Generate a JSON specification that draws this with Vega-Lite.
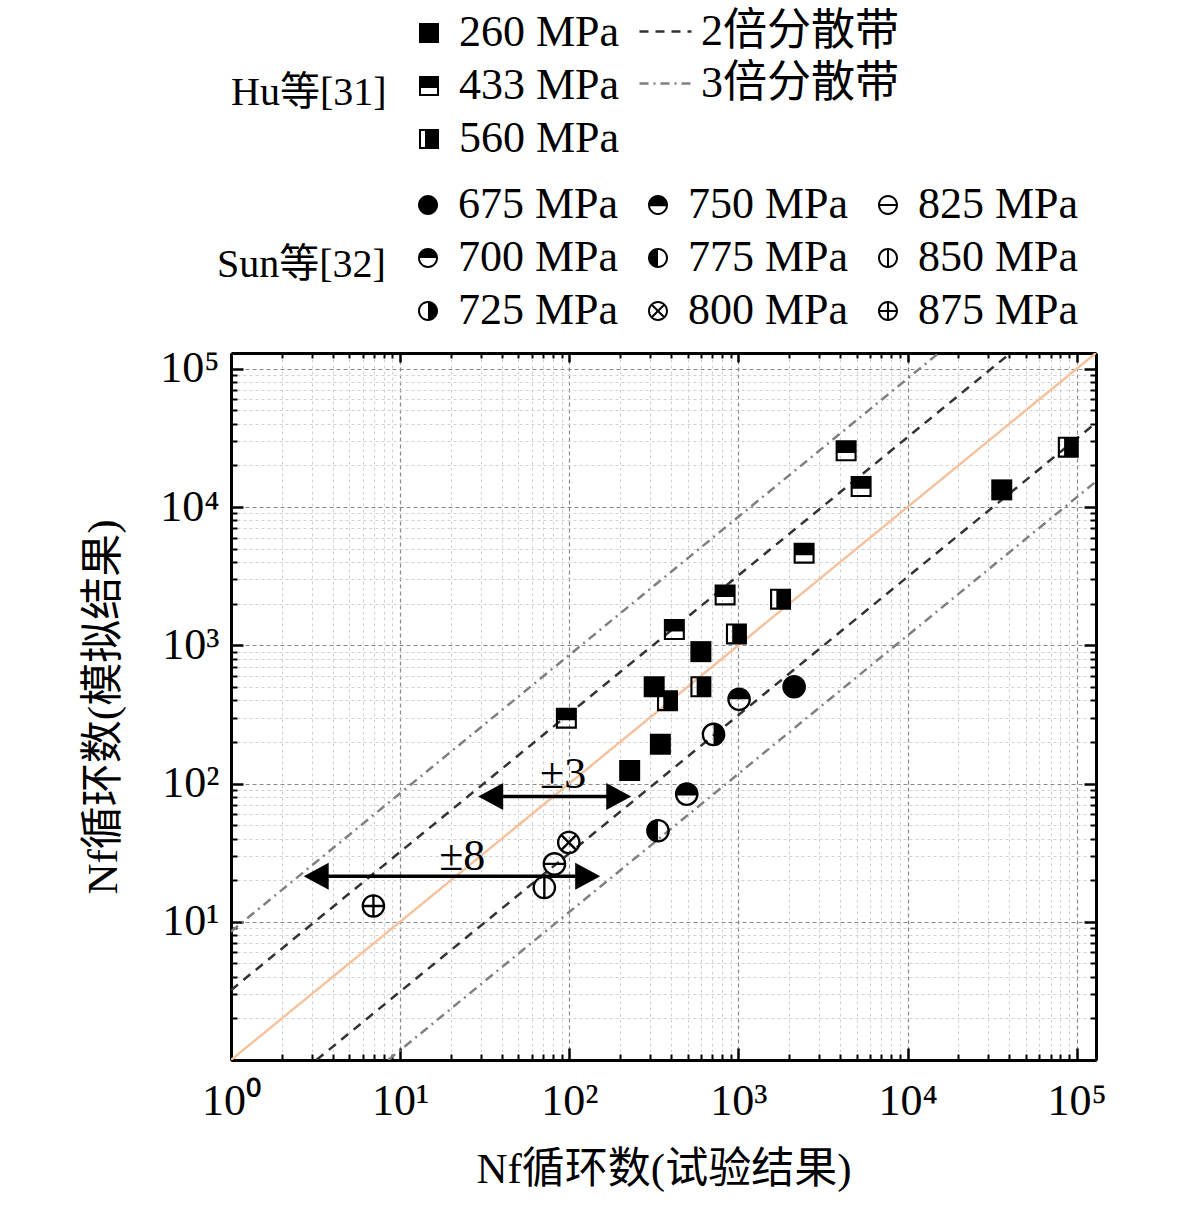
{
  "$schema": "https://vega.github.io/schema/vega-lite/v6.json",
  "autosize": {"type": "none"},
  "padding": {"left": 231, "top": 353, "right": 85, "bottom": 153},
  "width": 865,
  "height": 707,
  "background": "white",
  "datasets": {
    "diag": [
      {"x": 1, "y": 1},
      {"x": 130000, "y": 130000}
    ],
    "bands": [
      {"band": "2倍分散带", "side": "upper", "x": 1, "y": 3.2},
      {"band": "2倍分散带", "side": "upper", "x": 40625, "y": 130000},
      {"band": "2倍分散带", "side": "lower", "x": 3.2, "y": 1},
      {"band": "2倍分散带", "side": "lower", "x": 130000, "y": 40625},
      {"band": "3倍分散带", "side": "upper", "x": 1, "y": 8.5},
      {"band": "3倍分散带", "side": "upper", "x": 15294, "y": 130000},
      {"band": "3倍分散带", "side": "lower", "x": 8.5, "y": 1},
      {"band": "3倍分散带", "side": "lower", "x": 130000, "y": 15294}
    ],
    "arrows": [
      {"x": 34.3, "x2": 196, "y": 80.6},
      {"x": 3.19, "x2": 128.5, "y": 21.3}
    ],
    "heads": [
      {"dir": "left", "x": 34.3, "y": 80.6},
      {"dir": "right", "x": 196, "y": 80.6},
      {"dir": "left", "x": 3.19, "y": 21.3},
      {"dir": "right", "x": 128.5, "y": 21.3}
    ],
    "hu": [
      {"stress": "260 MPa", "x": 227.5, "y": 124.2},
      {"stress": "260 MPa", "x": 345.5, "y": 192.3},
      {"stress": "260 MPa", "x": 317.6, "y": 501},
      {"stress": "260 MPa", "x": 599.7, "y": 899},
      {"stress": "260 MPa", "x": 36040, "y": 13300},
      {"stress": "433 MPa", "x": 96.1, "y": 296.6},
      {"stress": "433 MPa", "x": 418, "y": 1300},
      {"stress": "433 MPa", "x": 834, "y": 2312},
      {"stress": "433 MPa", "x": 2445, "y": 4634},
      {"stress": "433 MPa", "x": 4331, "y": 25470},
      {"stress": "433 MPa", "x": 5312, "y": 14060},
      {"stress": "560 MPa", "x": 380.6, "y": 397},
      {"stress": "560 MPa", "x": 599.7, "y": 501},
      {"stress": "560 MPa", "x": 973, "y": 1208},
      {"stress": "560 MPa", "x": 1774, "y": 2153},
      {"stress": "560 MPa", "x": 89170, "y": 27100}
    ],
    "sun": [
      {"stress": "675 MPa", "x": 2134, "y": 501},
      {"stress": "700 MPa", "x": 1009, "y": 406},
      {"stress": "725 MPa", "x": 712.6, "y": 226.5},
      {"stress": "750 MPa", "x": 494.8, "y": 83.7},
      {"stress": "775 MPa", "x": 334.4, "y": 45.5},
      {"stress": "800 MPa", "x": 99.3, "y": 37.4},
      {"stress": "825 MPa", "x": 81.7, "y": 26.2},
      {"stress": "850 MPa", "x": 71.2, "y": 17.7},
      {"stress": "875 MPa", "x": 6.95, "y": 13.0}
    ],
    "notes": [
      {"label": "±3", "x": 92, "y": 115},
      {"label": "±8", "x": 23.3, "y": 29.4}
    ]
  },
  "layer": [
    {
      "data": {"name": "diag"},
      "mark": {"type": "line", "color": "#F6C19A", "strokeWidth": 2.4, "clip": true},
      "encoding": {
        "x": {
          "field": "x", "type": "quantitative",
          "scale": {"type": "log", "domain": [1, 130000], "nice": false},
          "axis": {
            "orient": "bottom", "title": null, "labels": false, "domain": false,
            "values": [2,3,4,5,6,7,8,9,20,30,40,50,60,70,80,90,200,300,400,500,600,700,800,900,2000,3000,4000,5000,6000,7000,8000,9000,20000,30000,40000,50000,60000,70000,80000,90000],
            "ticks": true, "tickSize": -6, "tickWidth": 2, "tickColor": "black",
            "grid": true, "gridColor": "#d0d0d0", "gridDash": [3, 3], "gridWidth": 1
          }
        },
        "y": {
          "field": "y", "type": "quantitative",
          "scale": {"type": "log", "domain": [1, 130000], "nice": false},
          "axis": {
            "orient": "left", "title": null, "labels": false, "domain": false,
            "values": [2,3,4,5,6,7,8,9,20,30,40,50,60,70,80,90,200,300,400,500,600,700,800,900,2000,3000,4000,5000,6000,7000,8000,9000,20000,30000,40000,50000,60000,70000,80000,90000],
            "ticks": true, "tickSize": -6, "tickWidth": 2, "tickColor": "black",
            "grid": true, "gridColor": "#d0d0d0", "gridDash": [3, 3], "gridWidth": 1
          }
        }
      }
    },
    {
      "data": {"name": "bands"},
      "mark": {"type": "line", "strokeWidth": 2.5, "clip": true},
      "encoding": {
        "x": {
          "field": "x", "type": "quantitative",
          "scale": {"type": "log", "domain": [1, 130000], "nice": false},
          "axis": {
            "orient": "bottom", "values": [1, 10, 100, 1000, 10000, 100000],
            "labelExpr": "'10' + ['⁰','¹','²','³','⁴','⁵'][round(log(datum.value) / LN10)]",
            "labelFont": "Liberation Serif", "labelFontSize": 44, "labelColor": "black",
            "labelPadding": 19, "labelFlush": false, "labelOverlap": false,
            "ticks": false, "domain": true, "domainColor": "black", "domainWidth": 3,
            "grid": true, "gridColor": "#8a8a8a", "gridDash": [4, 3], "gridWidth": 1.2,
            "title": "Nf循环数(试验结果)", "titleFont": "Liberation Serif, Noto Sans CJK SC",
            "titleFontSize": 43, "titleFontWeight": "normal", "titleColor": "black", "titlePadding": 25
          }
        },
        "y": {
          "field": "y", "type": "quantitative",
          "scale": {"type": "log", "domain": [1, 130000], "nice": false},
          "axis": {
            "orient": "left", "values": [1, 10, 100, 1000, 10000, 100000],
            "labelExpr": "datum.value == 1 ? '' : '10' + ['⁰','¹','²','³','⁴','⁵'][round(log(datum.value) / LN10)]",
            "labelFont": "Liberation Serif", "labelFontSize": 44, "labelColor": "black",
            "labelPadding": 12, "labelFlush": false, "labelOverlap": false,
            "ticks": false, "domain": true, "domainColor": "black", "domainWidth": 3,
            "grid": true, "gridColor": "#8a8a8a", "gridDash": [4, 3], "gridWidth": 1.2,
            "title": "Nf循环数(模拟结果)", "titleFont": "Liberation Serif, Noto Sans CJK SC",
            "titleFontSize": 43, "titleFontWeight": "normal", "titleColor": "black", "titlePadding": 34
          }
        },
        "detail": {"field": "side"},
        "color": {
          "field": "band", "type": "nominal",
          "scale": {"domain": ["2倍分散带", "3倍分散带"], "range": ["#333333", "#808080"]},
          "legend": {
            "orient": "none", "legendX": 407, "legendY": -349, "title": null, "padding": 0,
            "symbolType": "stroke", "symbolSize": 2704, "symbolStrokeWidth": 2.4,
            "labelFont": "Liberation Serif, Noto Sans CJK SC", "labelFontSize": 44, "labelColor": "black",
            "labelOffset": 8, "labelLimit": 400, "rowPadding": 2
          }
        },
        "strokeDash": {
          "field": "band", "type": "nominal",
          "scale": {"domain": ["2倍分散带", "3倍分散带"], "range": [[9, 7], [9, 5, 2, 5]]},
          "legend": {
            "orient": "none", "legendX": 407, "legendY": -349, "title": null, "padding": 0,
            "symbolType": "stroke", "symbolSize": 2704, "symbolStrokeWidth": 2.4,
            "labelFont": "Liberation Serif, Noto Sans CJK SC", "labelFontSize": 44, "labelColor": "black",
            "labelOffset": 8, "labelLimit": 400, "rowPadding": 2
          }
        }
      }
    },
    {
      "data": {"name": "arrows"},
      "mark": {"type": "rule", "color": "black", "strokeWidth": 3.5},
      "encoding": {
        "x": {
          "field": "x", "type": "quantitative",
          "scale": {"type": "log", "domain": [1, 130000], "nice": false},
          "axis": {
            "orient": "bottom", "values": [1, 10, 100, 1000, 10000, 100000], "title": null,
            "labels": false, "domain": false, "grid": false,
            "ticks": true, "tickSize": -12, "tickWidth": 2.5, "tickColor": "black"
          }
        },
        "x2": {"field": "x2"},
        "y": {
          "field": "y", "type": "quantitative",
          "scale": {"type": "log", "domain": [1, 130000], "nice": false},
          "axis": {
            "orient": "left", "values": [1, 10, 100, 1000, 10000, 100000], "title": null,
            "labels": false, "domain": false, "grid": false,
            "ticks": true, "tickSize": -12, "tickWidth": 2.5, "tickColor": "black"
          }
        }
      }
    },
    {
      "data": {"name": "heads"},
      "mark": {"type": "point", "filled": true, "color": "black", "opacity": 1, "strokeWidth": 0, "size": 625},
      "encoding": {
        "x": {
          "field": "x", "type": "quantitative",
          "scale": {"type": "log", "domain": [1, 130000], "nice": false},
          "axis": {
            "orient": "top", "values": [1, 10, 100, 1000, 10000, 100000], "title": null,
            "labels": false, "domain": true, "domainColor": "black", "domainWidth": 3, "grid": false,
            "ticks": true, "tickSize": -9, "tickWidth": 2.5, "tickColor": "black"
          }
        },
        "y": {
          "field": "y", "type": "quantitative",
          "scale": {"type": "log", "domain": [1, 130000], "nice": false},
          "axis": {
            "orient": "right", "values": [1, 10, 100, 1000, 10000, 100000], "title": null,
            "labels": false, "domain": true, "domainColor": "black", "domainWidth": 3, "grid": false,
            "ticks": true, "tickSize": -12, "tickWidth": 2.5, "tickColor": "black"
          }
        },
        "shape": {
          "field": "dir", "type": "nominal", "legend": null,
          "scale": {"domain": ["left", "right"], "range": ["M-1,0L1,-1.08L1,1.08Z", "M1,0L-1,-1.08L-1,1.08Z"]}
        }
      }
    },
    {
      "data": {"name": "hu"},
      "mark": {"type": "point", "filled": true, "color": "black", "opacity": 1, "strokeWidth": 0, "size": 441},
      "encoding": {
        "x": {
          "field": "x", "type": "quantitative",
          "scale": {"type": "log", "domain": [1, 130000], "nice": false},
          "axis": {
            "orient": "top", "title": null, "labels": false, "domain": false, "grid": false,
            "values": [2,3,4,5,6,7,8,9,20,30,40,50,60,70,80,90,200,300,400,500,600,700,800,900,2000,3000,4000,5000,6000,7000,8000,9000,20000,30000,40000,50000,60000,70000,80000,90000],
            "ticks": true, "tickSize": -5, "tickWidth": 2, "tickColor": "black"
          }
        },
        "y": {
          "field": "y", "type": "quantitative",
          "scale": {"type": "log", "domain": [1, 130000], "nice": false},
          "axis": {
            "orient": "right", "title": null, "labels": false, "domain": false, "grid": false,
            "values": [2,3,4,5,6,7,8,9,20,30,40,50,60,70,80,90,200,300,400,500,600,700,800,900,2000,3000,4000,5000,6000,7000,8000,9000,20000,30000,40000,50000,60000,70000,80000,90000],
            "ticks": true, "tickSize": -6, "tickWidth": 2, "tickColor": "black"
          }
        },
        "shape": {
          "field": "stress", "type": "nominal",
          "scale": {
            "domain": ["260 MPa", "433 MPa", "560 MPa"],
            "range": [
              "M-1,-1H1V1H-1Z",
              "M-1,-1H1V1H-1ZM-0.8,0.2V0.8H0.8V0.2Z",
              "M-1,-1H1V1H-1ZM-0.8,-0.8V0.8H-0.4V-0.8Z"
            ]
          },
          "legend": {
            "orient": "none", "legendX": 0, "legendY": -342, "padding": 0,
            "title": "Hu等[31]", "titleOrient": "left", "titleAnchor": "middle",
            "titleBaseline": "line-top", "titleLineHeight": 14,
            "titleFont": "Liberation Serif, Noto Sans CJK SC", "titleFontSize": 40, "titleFontWeight": "normal",
            "titleColor": "black", "titlePadding": 20, "titleLimit": 400,
            "symbolSize": 400, "symbolFillColor": "black", "symbolStrokeWidth": 0, "symbolOpacity": 1,
            "labelFont": "Liberation Serif", "labelFontSize": 44, "labelColor": "black",
            "labelOffset": 8, "labelLimit": 400, "rowPadding": 9
          }
        }
      }
    },
    {
      "data": {"name": "sun"},
      "mark": {"type": "point", "filled": true, "color": "black", "opacity": 1, "strokeWidth": 0, "size": 560},
      "encoding": {
        "x": {
          "field": "x", "type": "quantitative",
          "scale": {"type": "log", "domain": [1, 130000], "nice": false},
          "axis": null
        },
        "y": {
          "field": "y", "type": "quantitative",
          "scale": {"type": "log", "domain": [1, 130000], "nice": false},
          "axis": null
        },
        "shape": {
          "field": "stress", "type": "nominal",
          "scale": {
            "domain": ["675 MPa", "700 MPa", "725 MPa", "750 MPa", "775 MPa", "800 MPa", "825 MPa", "850 MPa", "875 MPa"],
            "range": [
              "M0,-1C0.5523,-1 1,-0.5523 1,0C1,0.5523 0.5523,1 0,1C-0.5523,1 -1,0.5523 -1,0C-1,-0.5523 -0.5523,-1 0,-1Z",
              "M0,-1C0.5523,-1 1,-0.5523 1,0C1,0.5523 0.5523,1 0,1C-0.5523,1 -1,0.5523 -1,0C-1,-0.5523 -0.5523,-1 0,-1ZM-0.8,0C-0.8,0.4418 -0.4418,0.8 0,0.8C0.4418,0.8 0.8,0.4418 0.8,0Z",
              "M0,-1C0.5523,-1 1,-0.5523 1,0C1,0.5523 0.5523,1 0,1C-0.5523,1 -1,0.5523 -1,0C-1,-0.5523 -0.5523,-1 0,-1ZM0,-0.8C-0.4418,-0.8 -0.8,-0.4418 -0.8,0C-0.8,0.4418 -0.4418,0.8 0,0.8Z",
              "M0,-1C0.5523,-1 1,-0.5523 1,0C1,0.5523 0.5523,1 0,1C-0.5523,1 -1,0.5523 -1,0C-1,-0.5523 -0.5523,-1 0,-1ZM-0.791,0.12C-0.732,0.511 -0.3956,0.8 0,0.8C0.3956,0.8 0.732,0.511 0.791,0.12Z",
              "M0,-1C0.5523,-1 1,-0.5523 1,0C1,0.5523 0.5523,1 0,1C-0.5523,1 -1,0.5523 -1,0C-1,-0.5523 -0.5523,-1 0,-1ZM0,0.8C0.4418,0.8 0.8,0.4418 0.8,0C0.8,-0.4418 0.4418,-0.8 0,-0.8Z",
              "M0,-1C0.5523,-1 1,-0.5523 1,0C1,0.5523 0.5523,1 0,1C-0.5523,1 -1,0.5523 -1,0C-1,-0.5523 -0.5523,-1 0,-1ZM0,-0.8C-0.4418,-0.8 -0.8,-0.4418 -0.8,0C-0.8,0.4418 -0.4418,0.8 0,0.8C0.4418,0.8 0.8,0.4418 0.8,0C0.8,-0.4418 0.4418,-0.8 0,-0.8ZM-0.53,-0.672L0.672,0.53L0.53,0.672L-0.672,-0.53ZM-0.672,0.53L0.53,-0.672L0.672,-0.53L-0.53,0.672Z",
              "M0,-1C0.5523,-1 1,-0.5523 1,0C1,0.5523 0.5523,1 0,1C-0.5523,1 -1,0.5523 -1,0C-1,-0.5523 -0.5523,-1 0,-1ZM0,-0.8C-0.4418,-0.8 -0.8,-0.4418 -0.8,0C-0.8,0.4418 -0.4418,0.8 0,0.8C0.4418,0.8 0.8,0.4418 0.8,0C0.8,-0.4418 0.4418,-0.8 0,-0.8ZM-0.85,-0.1H0.85V0.1H-0.85Z",
              "M0,-1C0.5523,-1 1,-0.5523 1,0C1,0.5523 0.5523,1 0,1C-0.5523,1 -1,0.5523 -1,0C-1,-0.5523 -0.5523,-1 0,-1ZM0,-0.8C-0.4418,-0.8 -0.8,-0.4418 -0.8,0C-0.8,0.4418 -0.4418,0.8 0,0.8C0.4418,0.8 0.8,0.4418 0.8,0C0.8,-0.4418 0.4418,-0.8 0,-0.8ZM-0.1,-0.85H0.1V0.85H-0.1Z",
              "M0,-1C0.5523,-1 1,-0.5523 1,0C1,0.5523 0.5523,1 0,1C-0.5523,1 -1,0.5523 -1,0C-1,-0.5523 -0.5523,-1 0,-1ZM0,-0.8C-0.4418,-0.8 -0.8,-0.4418 -0.8,0C-0.8,0.4418 -0.4418,0.8 0,0.8C0.4418,0.8 0.8,0.4418 0.8,0C0.8,-0.4418 0.4418,-0.8 0,-0.8ZM-0.85,-0.1H0.85V0.1H-0.85ZM-0.1,-0.85H0.1V0.85H-0.1Z"
            ]
          },
          "legend": {
            "orient": "none", "legendX": -14, "legendY": -170, "padding": 0, "columns": 3, "columnPadding": 17,
            "title": "Sun等[32]", "titleOrient": "left", "titleAnchor": "middle",
            "titleBaseline": "line-top", "titleLineHeight": 14,
            "titleFont": "Liberation Serif, Noto Sans CJK SC", "titleFontSize": 40, "titleFontWeight": "normal",
            "titleColor": "black", "titlePadding": 20, "titleLimit": 400,
            "symbolSize": 400, "symbolFillColor": "black", "symbolStrokeWidth": 0, "symbolOpacity": 1,
            "labelFont": "Liberation Serif", "labelFontSize": 44, "labelColor": "black",
            "labelOffset": 8, "labelLimit": 400, "rowPadding": 9
          }
        }
      }
    },
    {
      "data": {"name": "notes"},
      "mark": {"type": "text", "font": "Liberation Serif", "fontSize": 44, "color": "black", "align": "center", "baseline": "middle"},
      "encoding": {
        "x": {
          "field": "x", "type": "quantitative",
          "scale": {"type": "log", "domain": [1, 130000], "nice": false},
          "axis": null
        },
        "y": {
          "field": "y", "type": "quantitative",
          "scale": {"type": "log", "domain": [1, 130000], "nice": false},
          "axis": null
        },
        "text": {"field": "label"}
      }
    }
  ],
  "resolve": {
    "axis": {"x": "independent", "y": "independent"},
    "scale": {"shape": "independent"},
    "legend": {"shape": "independent"}
  },
  "config": {
    "view": {"stroke": null},
    "font": "Liberation Serif"
  }
}
